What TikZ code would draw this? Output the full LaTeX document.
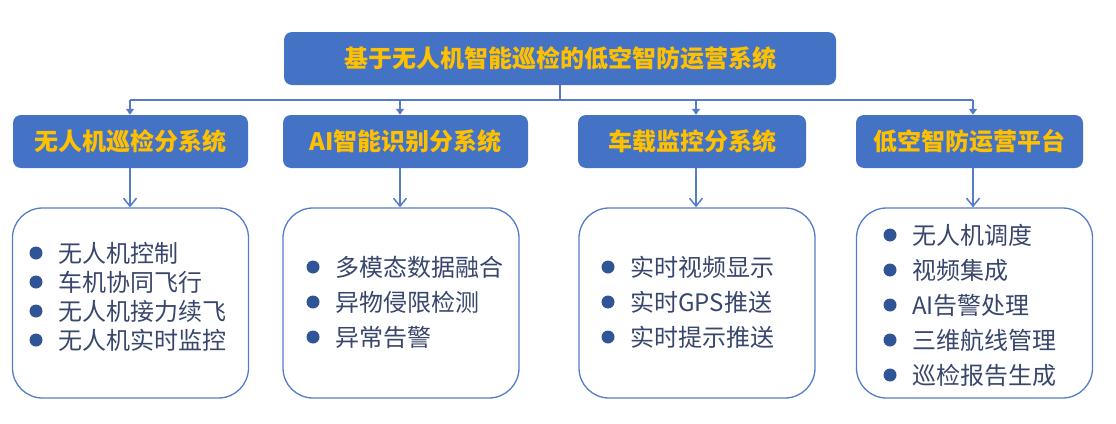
\documentclass[tikz,border=0pt]{standalone}
\usepackage{fontspec}
\setmainfont{Noto Sans CJK SC}
\usetikzlibrary{arrows.meta}
\definecolor{boxblue}{RGB}{68,114,196}
\definecolor{gold}{RGB}{255,192,0}
\definecolor{lineblue}{RGB}{84,124,200}
\definecolor{itemtext}{RGB}{56,70,108}
\definecolor{dotblue}{RGB}{47,85,151}
\begin{document}
\begin{tikzpicture}[
        x=1pt, y=-1pt,
        title_box/.style={rectangle, fill=boxblue, rounded corners=8pt, minimum height=53pt, text=gold, font=\fontsize{24}{28}\selectfont\bfseries},
        head_box/.style={rectangle, fill=boxblue, rounded corners=8pt, minimum height=53pt, text=gold, font=\fontsize{24}{28}\selectfont\bfseries},
        list_box/.style={rectangle, draw=lineblue, line width=1.3pt, rounded corners=30pt, minimum width=236pt, minimum height=190pt},
        item/.style={anchor=west, inner sep=0pt, text=itemtext, font=\fontsize{24}{28}\selectfont},
        dot/.style={circle, fill=dotblue, inner sep=0pt, minimum size=13pt},
        link/.style={draw=lineblue, line width=1.5pt}
    ]
        \useasboundingbox (0,0) rectangle (1116,423);

        % Top system
        \node[title_box, minimum width=552pt] (sys_root) at (560,58.5) {基于无人机智能巡检的低空智防运营系统};

        % Bus line
        \coordinate (bus_mid) at (560,100);
        \coordinate (bus_uav) at (130,100);
        \coordinate (bus_ai) at (400,100);
        \coordinate (bus_car) at (696,100);
        \coordinate (bus_ops) at (973,100);

        % Subsystems
        \node[head_box, minimum width=235pt] (head_uav) at (130.5,141.5) {无人机巡检分系统};
        \node[head_box, minimum width=245pt] (head_ai) at (405.5,141.5) {AI智能识别分系统};
        \node[head_box, minimum width=228pt] (head_car) at (692,141.5) {车载监控分系统};
        \node[head_box, minimum width=227pt] (head_ops) at (969.5,141.5) {低空智防运营平台};

        \draw[link] (sys_root.south) -- (bus_mid);
        \draw[link] (bus_uav) -- (bus_ops);
        \draw[link, -{Triangle[length=6pt, width=8pt]}] (bus_uav) -- (bus_uav |- head_uav.north);
        \draw[link, -{Triangle[length=6pt, width=8pt]}] (bus_ai) -- (bus_ai |- head_ai.north);
        \draw[link, -{Triangle[length=6pt, width=8pt]}] (bus_car) -- (bus_car |- head_car.north);
        \draw[link, -{Triangle[length=6pt, width=8pt]}] (bus_ops) -- (bus_ops |- head_ops.north);

        % Lists
        \node[list_box] (list_uav) at (130.5,303) {};
        \node[list_box] (list_ai) at (401,303) {};
        \node[list_box] (list_car) at (697,303) {};
        \node[list_box] (list_ops) at (974.5,303) {};

        \draw[link, -{Straight Barb[length=8pt, width=13pt]}] (bus_uav |- head_uav.south) -- (bus_uav |- list_uav.north);
        \draw[link, -{Straight Barb[length=8pt, width=13pt]}] (bus_ai |- head_ai.south) -- (bus_ai |- list_ai.north);
        \draw[link, -{Straight Barb[length=8pt, width=13pt]}] (bus_car |- head_car.south) -- (bus_car |- list_car.north);
        \draw[link, -{Straight Barb[length=8pt, width=13pt]}] (bus_ops |- head_ops.south) -- (bus_ops |- list_ops.north);

        % UAV patrol items
        \node[dot] (uav_dot1) at (36,253) {};
        \node[item] (uav_item1) at (58,253) {无人机控制};
        \node[dot] (uav_dot2) at (36,282) {};
        \node[item] (uav_item2) at (58,282) {车机协同飞行};
        \node[dot] (uav_dot3) at (36,311) {};
        \node[item] (uav_item3) at (58,311) {无人机接力续飞};
        \node[dot] (uav_dot4) at (36,340) {};
        \node[item] (uav_item4) at (58,340) {无人机实时监控};

        % AI recognition items
        \node[dot] (ai_dot1) at (313,267) {};
        \node[item] (ai_item1) at (335,267) {多模态数据融合};
        \node[dot] (ai_dot2) at (313,302) {};
        \node[item] (ai_item2) at (335,302) {异物侵限检测};
        \node[dot] (ai_dot3) at (313,337) {};
        \node[item] (ai_item3) at (335,337) {异常告警};

        % Vehicle monitoring items
        \node[dot] (car_dot1) at (608,267) {};
        \node[item] (car_item1) at (630,267) {实时视频显示};
        \node[dot] (car_dot2) at (608,302) {};
        \node[item] (car_item2) at (630,302) {实时GPS推送};
        \node[dot] (car_dot3) at (608,337) {};
        \node[item] (car_item3) at (630,337) {实时提示推送};

        % Operations platform items
        \node[dot] (ops_dot1) at (890,235) {};
        \node[item] (ops_item1) at (912,235) {无人机调度};
        \node[dot] (ops_dot2) at (890,270) {};
        \node[item] (ops_item2) at (912,270) {视频集成};
        \node[dot] (ops_dot3) at (890,305) {};
        \node[item] (ops_item3) at (912,305) {AI告警处理};
        \node[dot] (ops_dot4) at (890,340) {};
        \node[item] (ops_item4) at (912,340) {三维航线管理};
        \node[dot] (ops_dot5) at (890,375) {};
        \node[item] (ops_item5) at (912,375) {巡检报告生成};

    \end{tikzpicture}
\end{document}
